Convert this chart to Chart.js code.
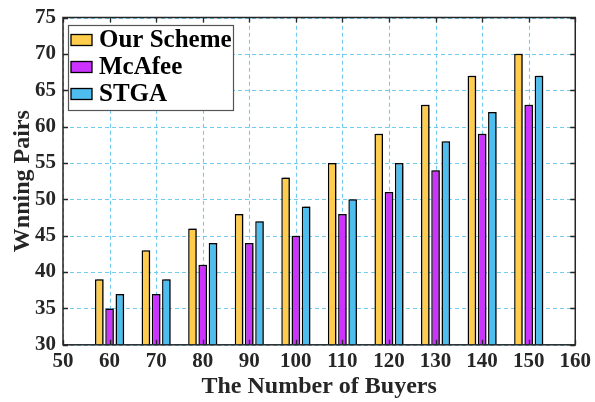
<!DOCTYPE html>
<html>
<head>
<meta charset="utf-8">
<script src="https://cdn.jsdelivr.net/npm/chart.js@4.4.1/dist/chart.umd.min.js"></script>
<style>
  html, body { margin: 0; padding: 0; background: #fff; }
  #wrap { width: 595px; height: 402px; }
</style>
</head>
<body>
<div id="wrap"><canvas id="c" width="595" height="402"></canvas></div>
<script>
// Number of buyers on the x axis
const buyers = [60, 70, 80, 90, 100, 110, 120, 130, 140, 150];
// Winning pairs per scheme
const ourScheme = [39, 43, 46, 48, 53, 55, 59, 63, 67, 70];
const mcafee    = [35, 37, 41, 44, 45, 48, 51, 54, 59, 63];
const stga      = [37, 39, 44, 47, 49, 50, 55, 58, 62, 67];
// Axis ticks
const xTicks = [50, 60, 70, 80, 90, 100, 110, 120, 130, 140, 150, 160];
const yTicks = [30, 35, 40, 45, 50, 55, 60, 65, 70, 75];
// Axis titles
const xTitle = 'The Number of Buyers';
const yTitle = 'Wnning Pairs';

const FONT = '"Liberation Serif", "Times New Roman", serif';
const toPoints = arr => arr.map((v, i) => ({ x: buyers[i], y: v }));

// Dashed grid behind the bars, then a soft shadow for the bars
const gridAndShadow = {
  id: 'gridAndShadow',
  beforeDatasetsDraw(chart) {
    const { ctx, chartArea: a, scales: { x, y } } = chart;
    ctx.save();
    ctx.strokeStyle = 'rgba(77,190,238,0.8)';
    ctx.lineWidth = 1.1;
    ctx.setLineDash([4, 3]);
    ctx.beginPath();
    xTicks.forEach(t => {
      const px = Math.round(x.getPixelForValue(t)) + 0.5;
      ctx.moveTo(px, a.bottom); ctx.lineTo(px, a.top);
    });
    yTicks.forEach(t => {
      const py = Math.round(y.getPixelForValue(t)) + 0.5;
      ctx.moveTo(a.left, py); ctx.lineTo(a.right, py);
    });
    ctx.stroke();
    ctx.restore();

    ctx.save();
    ctx.shadowColor = 'rgba(0,0,0,0.4)';
    ctx.shadowOffsetX = 2;
    ctx.shadowOffsetY = -1;
    ctx.shadowBlur = 1;
  },
  afterDatasetsDraw(chart) { chart.ctx.restore(); }
};

// Box frame with inward tick marks, plus the two axis titles
const frame = {
  id: 'frame',
  afterDatasetsDraw(chart) {
    const { ctx, chartArea: a, scales: { x, y } } = chart;
    ctx.save();
    ctx.strokeStyle = '#262626';
    ctx.lineWidth = 1.3;
    ctx.beginPath();
    xTicks.forEach(t => {
      const px = Math.round(x.getPixelForValue(t)) + 0.5;
      ctx.moveTo(px, a.bottom); ctx.lineTo(px, a.bottom - 5);
      ctx.moveTo(px, a.top); ctx.lineTo(px, a.top + 5);
    });
    yTicks.forEach(t => {
      const py = Math.round(y.getPixelForValue(t)) + 0.5;
      ctx.moveTo(a.left, py); ctx.lineTo(a.left + 5, py);
      ctx.moveTo(a.right, py); ctx.lineTo(a.right - 5, py);
    });
    ctx.stroke();
    ctx.lineWidth = 1.5;
    ctx.strokeRect(a.left, a.top, a.right - a.left, a.bottom - a.top);

    ctx.fillStyle = '#262626';
    ctx.font = 'bold 24px ' + FONT;
    ctx.textAlign = 'center';
    ctx.textBaseline = 'middle';
    ctx.fillText(xTitle, (a.left + a.right) / 2, 387);
    ctx.translate(23, (a.top + a.bottom) / 2);
    ctx.rotate(-Math.PI / 2);
    ctx.fillText(yTitle, 0, 0);
    ctx.restore();
  }
};

// Legend box inside the upper-left corner of the plot
const insideLegend = {
  id: 'insideLegend',
  afterDraw(chart) {
    const { ctx, chartArea: a } = chart;
    const x0 = a.left + 5, y0 = a.top + 7.5, w = 165, h = 85;
    ctx.save();
    ctx.fillStyle = '#fff';
    ctx.fillRect(x0, y0, w, h);
    ctx.strokeStyle = '#555';
    ctx.lineWidth = 1.2;
    ctx.strokeRect(x0 + 0.5, y0 + 0.5, w, h);
    ctx.font = 'bold 25px ' + FONT;
    ctx.textBaseline = 'middle';
    chart.data.datasets.forEach((ds, i) => {
      const cy = y0 + 15 + i * 27;
      ctx.fillStyle = ds.backgroundColor;
      ctx.fillRect(x0 + 3, cy - 5.5, 21, 11);
      ctx.strokeStyle = '#000';
      ctx.lineWidth = 1.3;
      ctx.strokeRect(x0 + 3, cy - 5.5, 21, 11);
      ctx.fillStyle = '#000';
      ctx.fillText(ds.label, x0 + 31, cy + 1);
    });
    ctx.restore();
  }
};

new Chart(document.getElementById('c'), {
  type: 'bar',
  data: {
    datasets: [
      { label: 'Our Scheme', data: toPoints(ourScheme), backgroundColor: '#FFCC4D', borderColor: '#000', borderWidth: 1.5 },
      { label: 'McAfee',     data: toPoints(mcafee),    backgroundColor: '#CC33FF', borderColor: '#000', borderWidth: 1.5 },
      { label: 'STGA',       data: toPoints(stga),      backgroundColor: '#4DBEEE', borderColor: '#000', borderWidth: 1.5 }
    ]
  },
  options: {
    responsive: false,
    animation: false,
    devicePixelRatio: 1,
    layout: { padding: { top: 11.5, right: 16, left: 28, bottom: 24 } },
    categoryPercentage: 0.66,
    barPercentage: 0.84,
    plugins: { legend: { display: false }, tooltip: { enabled: false } },
    scales: {
      x: {
        type: 'linear',
        min: 50, max: 160,
        offset: false,
        afterBuildTicks(s) { s.ticks = xTicks.map(v => ({ value: v })); },
        grid: { display: false, drawTicks: false },
        border: { display: false },
        ticks: { color: '#262626', font: { family: FONT, size: 21, weight: 'bold' }, padding: 4, maxRotation: 0, autoSkip: false }
      },
      y: {
        min: 30, max: 75,
        afterBuildTicks(s) { s.ticks = yTicks.map(v => ({ value: v })); },
        grid: { display: false, drawTicks: false },
        border: { display: false },
        ticks: { color: '#262626', font: { family: FONT, size: 21, weight: 'bold', lineHeight: 1.0 }, padding: 7 }
      }
    }
  },
  plugins: [gridAndShadow, frame, insideLegend]
});
</script>
</body>
</html>
